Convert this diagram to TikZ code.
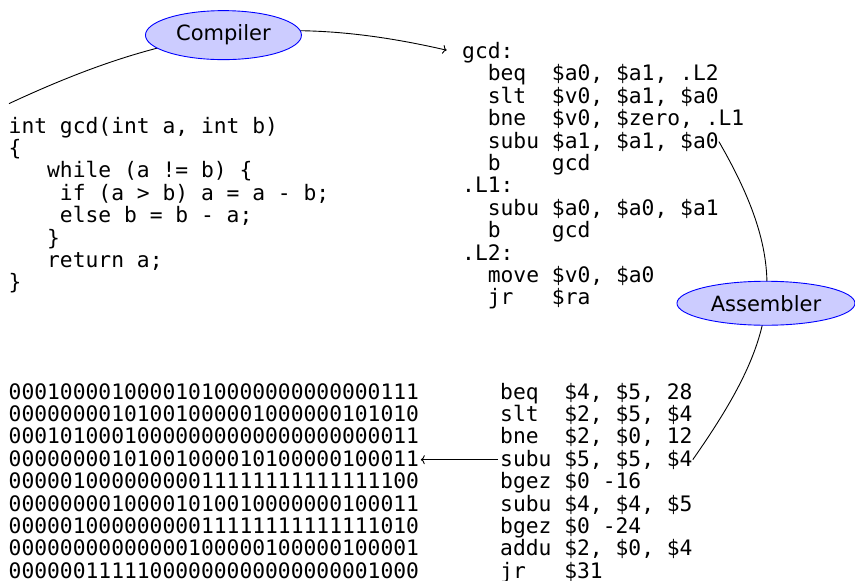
\documentclass[tikz,border=0pt]{standalone}
\usepackage{fontspec}
\newfontfamily\codefont{DejaVu Sans Mono}
\newfontfamily\labelfont{DejaVu Sans}
\usetikzlibrary{shapes.geometric,arrows.meta}
\frenchspacing
\begin{document}
\begin{tikzpicture}[x=1pt,y=1pt,
  link/.style={line width=0.9pt},
  code/.style={anchor=base west, inner sep=0pt,
    font=\codefont\fontsize{21.3}{22.4}\selectfont},
  stage/.style={ellipse, draw=blue, line width=0.9pt, fill=blue!20,
    inner sep=0pt, font=\labelfont\fontsize{21}{25}\selectfont},
  >={To[length=4pt,width=9pt]}]
\useasboundingbox (0,0) rectangle (855,-581);

% C source
\foreach \t [count=\i] in {{int gcd(int a, int b)}, {\{},
    {~~~while (a != b) \{}, {~~~~if (a > b) a = a - b;},
    {~~~~else b = b - a;}, {~~~\}}, {~~~return a;}, {\}}}
  \node[code] (c\i) at (8.5, {-133-22.4*(\i-1)}) {\t};

% assembly with labels
\foreach \t [count=\i] in {{gcd:}, {~~beq~~\$a0, \$a1, .L2},
    {~~slt~~\$v0, \$a1, \$a0}, {~~bne~~\$v0, \$zero, .L1},
    {~~subu \$a1, \$a1, \$a0}, {~~b~~~~gcd}, {.L1:},
    {~~subu \$a0, \$a0, \$a1}, {~~b~~~~gcd}, {.L2:},
    {~~move \$v0, \$a0}, {~~jr~~~\$ra}}
  \node[code] (a\i) at (462, {-58.5-22.4*(\i-1)}) {\t};

% machine code in binary
\foreach \t [count=\i] in {00010000100001010000000000000111,
    00000000101001000001000000101010, 00010100010000000000000000000011,
    00000000101001000010100000100011, 00000100000000011111111111111100,
    00000000100001010010000000100011, 00000100000000011111111111111010,
    00000000000000100000100000100001, 00000011111000000000000000001000}
  \node[code] (n\i) at (8.5, {-399-22.4*(\i-1)}) {\t};

% disassembled listing
\foreach \t [count=\i] in {{beq~~\$4, \$5, 28}, {slt~~\$2, \$5, \$4},
    {bne~~\$2, \$0, 12}, {subu \$5, \$5, \$4}, {bgez \$0 -16},
    {subu \$4, \$4, \$5}, {bgez \$0 -24}, {addu \$2, \$0, \$4},
    {jr~~~\$31}}
  \node[code] (b\i) at (500, {-399-22.4*(\i-1)}) {\t};

% connectors
\coordinate (srcout) at ([shift={(0.5,13)}]c1.north west);
\coordinate (asmin) at ([shift={(-15.3,2.5)}]a1.west);
\draw[link,->] (srcout) to[out=25,in=167]
  node[stage, minimum width=156pt, minimum height=49pt] (comp) {Compiler} (asmin);
\draw[link] (a5.east) to[out=-60,in=55,looseness=1.2]
  node[stage, minimum width=178pt, minimum height=44pt] (asm) {Assembler} (b4.east);
\draw[link,->,shorten <=2pt,shorten >=1.5pt] (b4.west) -- (b4.west -| n4.east);
\end{tikzpicture}
\end{document}
